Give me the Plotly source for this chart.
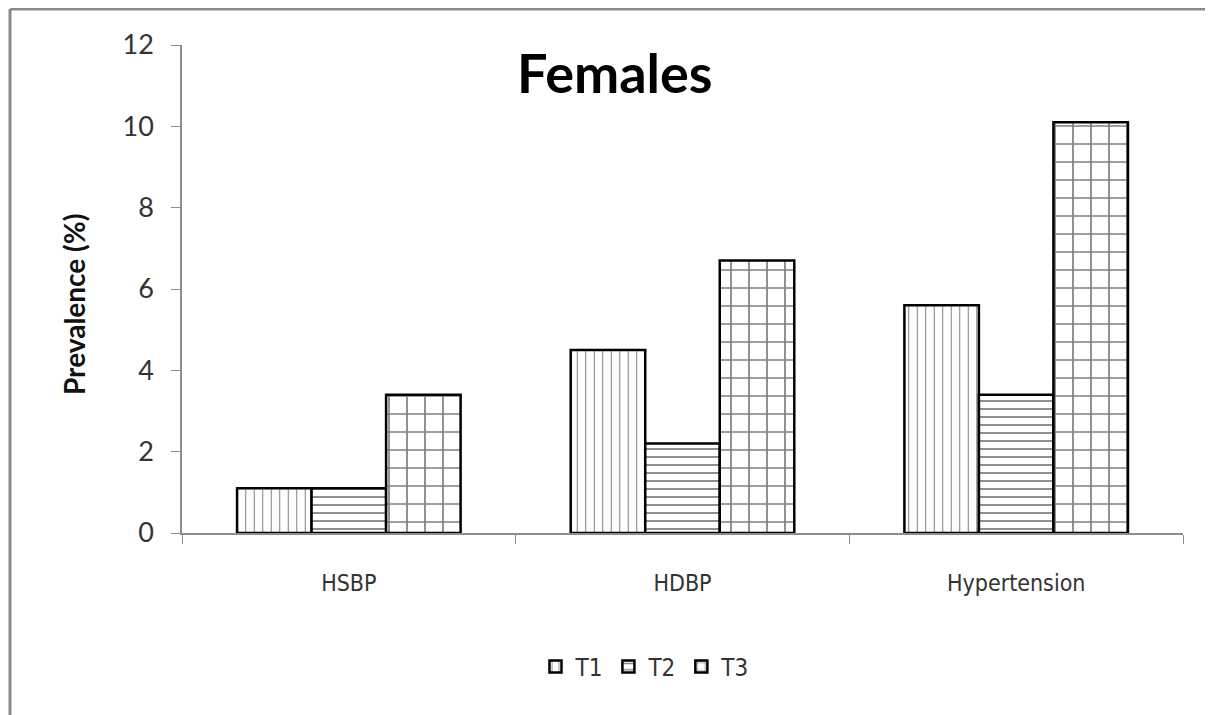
import plotly.graph_objects as go

categories = ["HSBP", "HDBP", "Hypertension"]
series_names = ["T1", "T2", "T3"]
t1_values = [1.1, 4.5, 5.6]
t2_values = [1.1, 2.2, 3.4]
t3_values = [3.4, 6.7, 10.1]
y_ticks = [0, 2, 4, 6, 8, 10, 12]

FONT = "Lato, 'Open Sans', sans-serif"
NARROW = "'Liberation Sans Narrow', 'DejaVu Sans Condensed', Lato, sans-serif"

patterns = {
    "T1": dict(shape="|", size=8.5, solidity=0.12, fgcolor="black", bgcolor="white"),
    "T2": dict(shape="-", size=8, solidity=0.22, fgcolor="black", bgcolor="white"),
    "T3": dict(shape="+", size=18, solidity=0.18, fgcolor="black", bgcolor="white"),
}

fig = go.Figure()
for name, vals in zip(series_names, [t1_values, t2_values, t3_values]):
    fig.add_trace(go.Bar(
        name=name, x=categories, y=vals,
        marker=dict(color="white", pattern=patterns[name],
                    line=dict(color="black", width=2.5)),
    ))

OFF = 8  # page body margin
W, H = 1213 - OFF, 715 - OFF
# plot area in screen pixels: x 182..1183, y 45..533
L, T = 182 - OFF, 45 - OFF
pw, ph = 1001, 488
R, B = W - L - pw, H - T - ph

def px_x(sx):
    return (sx - OFF - L) / pw

def px_y(sy):
    return (T + ph - (sy - OFF)) / ph

fig.update_layout(
    width=W, height=H,
    margin=dict(l=L, r=R, t=T, b=B),
    paper_bgcolor="white", plot_bgcolor="white",
    barmode="group", bargap=0.33, bargroupgap=0,
    font=dict(family=FONT, size=21, color="#333333"),
    showlegend=True,
    legend=dict(orientation="h", x=px_x(645), xanchor="center", y=px_y(667), yanchor="middle",
                font=dict(size=24, color="#333333", family=NARROW), tracegroupgap=0),
    xaxis=dict(type="category", showline=True, linecolor="#8c8c8c", linewidth=1.5,
               ticks="outside", tickson="boundaries", ticklen=9, tickcolor="#8c8c8c",
               tickfont=dict(size=23, color="#333333", family=NARROW), showgrid=False,
               ticklabelstandoff=29),
    yaxis=dict(range=[0, 12], tickvals=y_ticks, showline=True, linecolor="#8c8c8c", linewidth=1.5,
               ticks="outside", ticklen=9, tickcolor="#8c8c8c", showgrid=False, zeroline=False,
               tickfont=dict(size=27, color="#333333"), ticklabelstandoff=12),
    annotations=[
        dict(text="<b>Females</b>", x=px_x(615), y=px_y(73), xref="paper", yref="paper",
             xanchor="center", yanchor="middle",
             showarrow=False, font=dict(size=54, color="black", family=FONT)),
        dict(text="<b>Prevalence (%)</b>", x=px_x(74), y=px_y(305), xref="paper", yref="paper",
             xanchor="center", yanchor="middle", textangle=-90,
             showarrow=False, font=dict(size=28, color="#111111", family=FONT)),
    ],
    shapes=[
        dict(type="line", xref="paper", yref="paper", x0=px_x(10), x1=px_x(1240), y0=px_y(9), y1=px_y(9),
             line=dict(color="#8a8a8a", width=3)),
        dict(type="line", xref="paper", yref="paper", x0=px_x(10), x1=px_x(10), y0=px_y(9), y1=px_y(740),
             line=dict(color="#8a8a8a", width=3)),
    ],
)

fig.write_html("out.html")
